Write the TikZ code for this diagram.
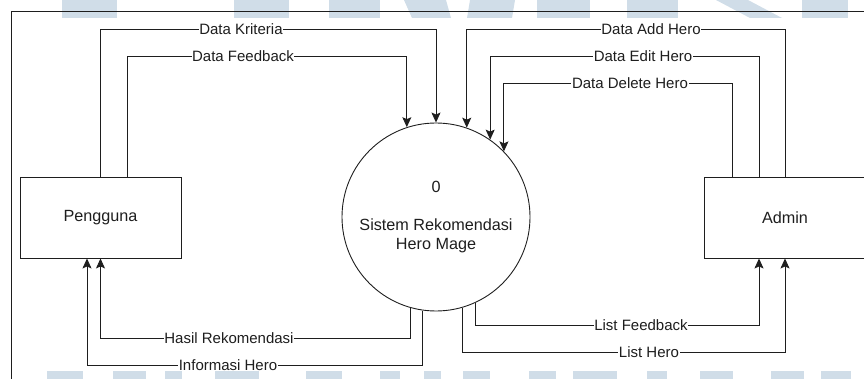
\documentclass[tikz,border=0pt]{standalone}
\usepackage{fontspec}
\setmainfont{Liberation Sans}
\usetikzlibrary{arrows.meta,calc}

\definecolor{wmblue}{RGB}{208,221,232}
\definecolor{ink}{RGB}{30,30,30}

\begin{document}
\begin{tikzpicture}[x=1pt,y=-1pt,
  flow/.style={draw=ink, line width=0.9pt, -{Stealth[length=10pt,width=9pt,inset=2pt]}},
  entity/.style={draw=ink, line width=0.9pt, minimum width=161pt, minimum height=81pt,
                 inner sep=0pt, font=\fontsize{16.2}{19}\selectfont, text=ink},
  process/.style={circle, draw=ink, line width=0.9pt, minimum size=188pt, inner sep=0pt,
                  align=center, font=\fontsize{16.2}{19}\selectfont, text=ink},
  lbl/.style={fill=white, inner sep=0.6pt, font=\fontsize{15}{17}\selectfont, text=ink},
  wm/.style={fill=wmblue, draw=none}]

\useasboundingbox (0,0) rectangle (864,379);

% background watermark pieces
\fill[wm] (62,0) rectangle (117,18);
\fill[wm] (234,0) rectangle (289,18);
\fill[wm] (329,0) rectangle (380,18);
\fill[wm] (404,0) -- (446,0) -- (451,18) -- (412,18) -- cycle;
\fill[wm] (470,0) -- (515,0) -- (512,18) -- (467,18) -- cycle;
\fill[wm] (537,0) rectangle (590,18);
\fill[wm] (627,0) rectangle (678,18);
\fill[wm] (716,0) -- (748,0) -- (782,18) -- (750,18) -- cycle;
\fill[wm] (802,0) rectangle (848,18);
\foreach \a/\b in {47/83,113/146,165/182,215/259,306/342,380/400,424/441,
                   463/490,529/556,573/617,647/667,700/733,771/804,821/851}
  \fill[wm] (\a,371) rectangle (\b,380);

% outer frame
\draw[ink, line width=0.9pt] (11,385) -- (11,11) -- (870,11);

% entities and process
\node[entity] (pengguna) at (100.5,217.5) {Pengguna};
\node[entity, minimum width=162pt] (admin) at (785,217.5) {Admin};
\node[process] (sys) at (436,217) {0\\[19pt]Sistem Rekomendasi\\Hero Mage};

% routing rows
\coordinate (rowA) at (0,29);
\coordinate (rowB) at (0,56);
\coordinate (rowC) at (0,83);
\coordinate (rowLF) at (0,325);
\coordinate (rowH) at (0,338);
\coordinate (rowLH) at (0,352);
\coordinate (rowI) at (0,365);

% side ports on the entities
\coordinate (pfb) at ($(pengguna.north)+(26.5,0)$);
\coordinate (pinf) at ($(pengguna.south)+(-13.5,0)$);
\coordinate (aed) at ($(admin.north)+(-26,0)$);
\coordinate (adl) at ($(admin.north)+(-53,0)$);
\coordinate (alf) at ($(admin.south)+(-26,0)$);

% flows
\draw[flow] (pengguna.north) -- (pengguna.north |- rowA) -| (sys.90);
\draw[flow] (pfb) -- (pfb |- rowB) -| (sys.108.2);
\draw[flow] (admin.north) -- (admin.north |- rowA) -| (sys.71.6);
\draw[flow] (aed) -- (aed |- rowB) -| (sys.55);
\draw[flow] (adl) -- (adl |- rowC) -| (sys.44.5);
\draw[flow] (sys.254) -- (sys.254 |- rowH) -| (pengguna.south);
\draw[flow] (sys.262.5) -- (sys.262.5 |- rowI) -| (pinf);
\draw[flow] (sys.295.6) -- (sys.295.6 |- rowLF) -| (alf);
\draw[flow] (sys.286.7) -- (sys.286.7 |- rowLH) -| (admin.south);

% flow labels
\node[lbl] (lkrit) at (241,29) {Data Kriteria};
\node[lbl] (lfeed) at (243,56) {Data Feedback};
\node[lbl] (ladd) at (651,29) {Data Add Hero};
\node[lbl] (ledit) at (643,56) {Data Edit Hero};
\node[lbl] (ldel) at (630,83) {Data Delete Hero};
\node[lbl] (lhasil) at (229,338) {Hasil Rekomendasi};
\node[lbl] (linfo) at (228,365) {Informasi Hero};
\node[lbl] (llf) at (641,325) {List Feedback};
\node[lbl] (llh) at (649,352) {List Hero};

\end{tikzpicture}
\end{document}
